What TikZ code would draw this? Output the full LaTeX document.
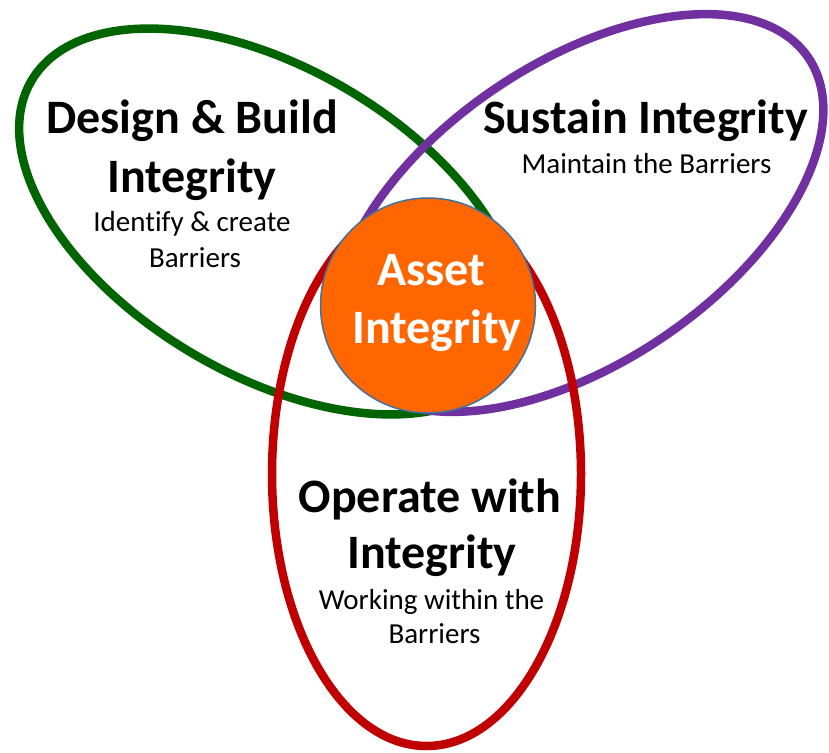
\documentclass[tikz,border=0pt]{standalone}
\usepackage{fontspec}
\setmainfont{Carlito}[Ligatures=NoCommon]
\definecolor{ringgreen}{HTML}{006400}
\definecolor{ringpurple}{HTML}{7030A0}
\definecolor{ringred}{HTML}{C00000}
\definecolor{assetorange}{HTML}{FF6600}
\definecolor{assetedge}{HTML}{41719C}
\begin{document}
\begin{tikzpicture}[x=1pt,y=-1pt,
  ring/.style={line width=8.5pt},
  titletext/.style={font=\fontsize{48}{58}\selectfont\bfseries, anchor=base, inner sep=0pt},
  subtext/.style={font=\fontsize{29}{36}\selectfont, anchor=base, inner sep=0pt}]
\useasboundingbox[fill=white] (0,0) rectangle (829,752);
% rings
\draw[ring, draw=ringgreen, rotate around={-30.6:(270,221.5)}] (270,221.5) ellipse [x radius=277pt, y radius=153pt];
\draw[ring, draw=ringpurple, rotate around={34.1:(579,213)}] (579,213) ellipse [x radius=277pt, y radius=150pt];
\draw[ring, draw=ringred] (426.5,474) ellipse [x radius=154.5pt, y radius=272pt];
% centre
\node[circle, fill=assetorange, draw=assetedge, line width=1.5pt, minimum size=215pt, inner sep=0pt] (asset) at (428,305.5) {};
\node[titletext, text=white] (assetA) at (431,285) {Asset};
\node[titletext, text=white] (assetB) at (437,343) {Integrity};
% design
\node[titletext] (dbA) at (192,133) {Design \& Build};
\node[titletext] (dbB) at (192,192) {Integrity};
\node[subtext] (dbC) at (192,231) {Identify \& create};
\node[subtext] (dbD) at (195,267) {Barriers};
% sustain
\node[titletext] (siA) at (645.5,133) {Sustain Integrity};
\node[subtext] (siB) at (646.5,173) {Maintain the Barriers};
% operate
\node[titletext] (owA) at (430,512) {Operate with};
\node[titletext] (owB) at (432,568) {Integrity};
\node[subtext] (owC) at (431.5,609) {Working within the};
\node[subtext] (owD) at (434.5,643) {Barriers};
\end{tikzpicture}
\end{document}
